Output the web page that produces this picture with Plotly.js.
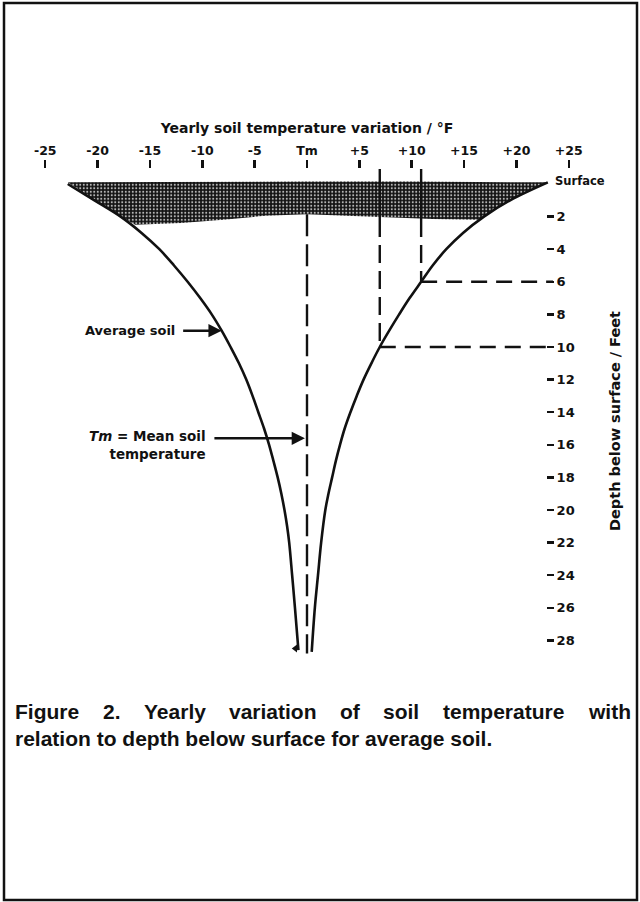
<!DOCTYPE html>
<html>
<head>
<meta charset="utf-8">
<script src="https://cdn.plot.ly/plotly-3.0.1.min.js"></script>
<style>
  html, body { margin: 0; padding: 0; background: #ffffff; }
  #chart { width: 640px; height: 902px; }
</style>
</head>
<body>
<div id="chart"></div>
<script>
// ---- Data ----
const tempTicks = [-25, -20, -15, -10, -5, 0, 5, 10, 15, 20, 25];
const tempTickLabels = ['-25', '-20', '-15', '-10', '-5', 'Tm', '+5', '+10', '+15', '+20', '+25'];
const depthTicks = [2, 4, 6, 8, 10, 12, 14, 16, 18, 20, 22, 24, 26, 28];
const depthTickLabels = ['2', '4', '6', '8', '10', '12', '14', '16', '18', '20', '22', '24', '26', '28'];

// lower temperature envelope (left curve): depth (ft) and variation (°F)
const leftDepth = [0, 1, 2, 3, 4, 5, 6, 7, 8, 9, 10, 11, 12, 13, 14, 15, 16, 17, 18, 19, 20, 21, 22, 24, 26, 28.6];
const leftTemp  = [-22.85, -20.3, -17.8, -15.8, -14.1, -12.7, -11.4, -10.2, -9.1, -8.15, -7.3, -6.5, -5.8, -5.2,
                   -4.65, -4.1, -3.62, -3.2, -2.8, -2.45, -2.15, -1.9, -1.7, -1.42, -1.15, -0.82];

// upper temperature envelope (right curve)
const rightDepth = [-0.1, 1, 2, 3, 4, 5, 6, 7, 8, 9, 10, 11, 12, 13, 14, 15, 16, 17, 18, 19, 20, 22, 24, 26, 28.7];
const rightTemp  = [23.0, 19.4, 16.9, 14.9, 13.3, 12.0, 10.9, 9.8, 8.8, 7.85, 6.95, 6.15, 5.4, 4.75,
                    4.15, 3.6, 3.15, 2.75, 2.4, 2.05, 1.75, 1.35, 1.05, 0.75, 0.45];

// stippled surface layer outline
const shadeTemp  = [-22.85, -10, 0, 10, 23.0, 19.4, 16.9, 16.4, 12, 8, 4, 0, -4, -8, -12, -16.4, -17.8, -20.3, -22.85];
const shadeDepth = [-0.1, -0.15, -0.15, -0.15, -0.1, 1, 2, 2.2, 2.15, 2.05, 1.95, 1.85, 1.95, 2.2, 2.4, 2.5, 2, 1, -0.1];

// mean soil temperature line
const meanTemp = [0, 0];
const meanDepth = [1.85, 28.8];

// example read-offs: temperature variation at given depth
const exampleDepth = [6, 10];
const exampleTemp = [10.9, 6.95];
const shadeBottomDepth = 2.15;
const lineTopDepth = -1.3;
const rightAxisTemp = 23.5;

// ---- Layout geometry helpers ----
const W = 640, H = 902;
const M = { l: 40, r: 66, t: 169, b: 229 };
const PW = W - M.l - M.r, PH = H - M.t - M.b;
const px2x = px => (px - M.l) / PW;
const py2y = py => 1 - (py - M.t) / PH;

const ink = '#111111';
const FONT = '"DejaVu Sans", Verdana, sans-serif';
const CAPFONT = '"Liberation Sans", Arial, Helvetica, sans-serif';

const traces = [];

traces.push({
  type: 'scatter', mode: 'lines', x: shadeTemp, y: shadeDepth,
  fill: 'toself', fillcolor: '#151515',
  fillpattern: { shape: '.', fgcolor: '#b8b8b8', bgcolor: '#121212', size: 3.5, solidity: 0.28, fillmode: 'replace' },
  line: { width: 0, color: 'rgba(0,0,0,0)' }, hoverinfo: 'skip', showlegend: false
});

traces.push({
  type: 'scatter', mode: 'lines', x: leftTemp, y: leftDepth,
  line: { color: ink, width: 2.6, shape: 'spline', smoothing: 1 }, showlegend: false
});
traces.push({
  type: 'scatter', mode: 'lines', x: rightTemp, y: rightDepth,
  line: { color: ink, width: 2.6, shape: 'spline', smoothing: 1 }, showlegend: false
});
traces.push({
  type: 'scatter', mode: 'markers',
  x: [leftTemp[leftTemp.length - 1] - 0.3], y: [leftDepth[leftDepth.length - 1] - 0.1],
  marker: { symbol: 'triangle-left', size: 7, color: ink }, showlegend: false
});

traces.push({
  type: 'scatter', mode: 'lines', x: meanTemp, y: meanDepth,
  line: { color: ink, width: 2.4, dash: '22px,8px' }, showlegend: false
});

for (let i = 0; i < exampleDepth.length; i++) {
  traces.push({
    type: 'scatter', mode: 'lines', x: [exampleTemp[i], exampleTemp[i]], y: [lineTopDepth, shadeBottomDepth],
    line: { color: ink, width: 2.4 }, showlegend: false
  });
  traces.push({
    type: 'scatter', mode: 'lines', x: [exampleTemp[i], exampleTemp[i]], y: [shadeBottomDepth, exampleDepth[i]],
    line: { color: ink, width: 2.4, dash: '18px,8px' }, showlegend: false
  });
  traces.push({
    type: 'scatter', mode: 'lines', x: [exampleTemp[i], rightAxisTemp], y: [exampleDepth[i], exampleDepth[i]],
    line: { color: ink, width: 2.4, dash: '16px,9px' }, showlegend: false
  });
}

// caption words, justified on the first line
const captionLine1 = ['Figure', '2.', 'Yearly', 'variation', 'of', 'soil', 'temperature', 'with'];
const captionLine2 = 'relation to depth below surface for average soil.';
const capSize = 21;
const ctx = document.createElement('canvas').getContext('2d');
ctx.font = 'bold ' + capSize + 'px "Liberation Sans"';
const widths = captionLine1.map(w => ctx.measureText(w).width);
const lineStart = 13, lineEnd = 628;
const gap = (lineEnd - lineStart - widths.reduce((a, b) => a + b, 0)) / (captionLine1.length - 1);

const annotations = [];
let cx = lineStart;
captionLine1.forEach((w, i) => {
  annotations.push({
    xref: 'paper', yref: 'paper', x: px2x(cx), y: py2y(711), xanchor: 'left', yanchor: 'middle',
    text: w, showarrow: false, font: { size: capSize, color: ink, family: CAPFONT, weight: 'bold' }
  });
  cx += widths[i] + gap;
});
annotations.push({
  xref: 'paper', yref: 'paper', x: px2x(lineStart), y: py2y(738), xanchor: 'left', yanchor: 'middle',
  text: captionLine2, showarrow: false, font: { size: capSize, color: ink, family: CAPFONT, weight: 'bold' }
});

annotations.push({
  xref: 'x', yref: 'y', x: rightAxisTemp, y: -0.2, xanchor: 'left', yanchor: 'middle',
  text: 'Surface', showarrow: false, font: { size: 11.5, color: ink, family: FONT, weight: 'bold' }
});

annotations.push({
  xref: 'paper', yref: 'paper', x: px2x(177), y: py2y(330), xanchor: 'right', yanchor: 'middle',
  text: 'Average soil', showarrow: false, font: { size: 13, color: ink, family: FONT, weight: 'bold' }
});
annotations.push({
  xref: 'x', yref: 'y', x: leftTemp[9], y: leftDepth[9], ax: -42, ay: 0,
  text: ' ', showarrow: true, arrowhead: 2, arrowsize: 1.1, arrowwidth: 2.4, arrowcolor: ink, standoff: 0
});
annotations.push({
  xref: 'paper', yref: 'paper', x: px2x(208), y: py2y(445), xanchor: 'right', yanchor: 'middle', align: 'right',
  text: '<i>Tm</i> = Mean soil<br>temperature', showarrow: false,
  font: { size: 13.5, color: ink, family: FONT, weight: 'bold' }
});
annotations.push({
  xref: 'x', yref: 'y', x: -0.2, y: 15.6, ax: -94, ay: 0,
  text: ' ', showarrow: true, arrowhead: 2, arrowsize: 1.1, arrowwidth: 2.4, arrowcolor: ink, standoff: 0
});

const layout = {
  width: W, height: H,
  margin: M,
  paper_bgcolor: '#ffffff', plot_bgcolor: 'rgba(0,0,0,0)',
  font: { family: FONT, color: ink, weight: 'bold' },
  showlegend: false,
  xaxis: {
    range: [-25.5, 25.5], side: 'top',
    tickvals: tempTicks, ticktext: tempTickLabels,
    ticks: 'outside', ticklen: 8, tickwidth: 2.5, tickcolor: ink,
    tickfont: { size: 12.5, family: FONT, color: ink, weight: 'bold' },
    showgrid: false, zeroline: false, showline: false, fixedrange: true,
    title: { text: 'Yearly soil temperature variation / °F', standoff: 6,
             font: { size: 14, family: FONT, color: ink, weight: 'bold' } }
  },
  yaxis: {
    range: [30, -0.92], side: 'right', anchor: 'free', position: px2x(546),
    tickvals: depthTicks, ticktext: depthTickLabels,
    ticks: 'outside', ticklen: 7, tickwidth: 2.5, tickcolor: ink,
    tickfont: { size: 13, family: FONT, color: ink, weight: 'bold' },
    showgrid: false, zeroline: false, showline: false, fixedrange: true,
    title: { text: 'Depth below surface / Feet', standoff: 36,
             font: { size: 14.5, family: FONT, color: ink, weight: 'bold' } }
  },
  shapes: [{
    type: 'rect', xref: 'paper', yref: 'paper',
    x0: px2x(4), x1: px2x(637), y0: py2y(900), y1: py2y(3),
    line: { color: ink, width: 2.5 }, fillcolor: 'rgba(0,0,0,0)'
  }],
  annotations: annotations
};

Plotly.newPlot('chart', traces, layout, { displayModeBar: false, staticPlot: true });
</script>
</body>
</html>
